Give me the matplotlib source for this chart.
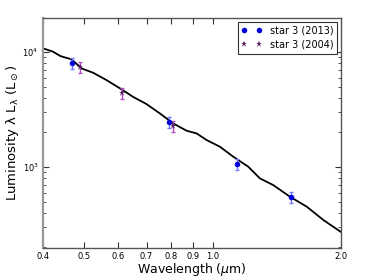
import matplotlib
matplotlib.use('Agg')
import matplotlib.pyplot as plt
from matplotlib.ticker import FixedLocator, FixedFormatter, LogLocator, NullFormatter
import numpy as np

# model curve
model_wl = [0.400, 0.423, 0.440, 0.467, 0.493, 0.525, 0.564, 0.612, 0.651, 0.700,
            0.752, 0.808, 0.869, 0.917, 0.968, 1.040, 1.118, 1.212, 1.291, 1.387,
            1.518, 1.662, 1.818, 2.000]
model_lum = [10800, 10070, 9230, 8650, 7210, 6610, 5710, 4740, 4080, 3530,
             2930, 2400, 2070, 1963, 1718, 1503, 1230, 1007, 796, 697,
             552, 452, 346, 272]

# star 3 photometry
wl_2013 = [0.468, 0.790, 1.14, 1.53]
lum_2013 = [8020, 2460, 1062, 548]
wl_2004 = [0.488, 0.613, 0.807]
lum_2004 = [7410, 4400, 2275]
rel_err = 0.11

xticks = [0.4, 0.5, 0.6, 0.7, 0.8, 0.9, 1.0, 2.0]
xticklabels = ['0.4', '0.5', '0.6', '0.7', '0.8', '0.9', '1.0', '2.0']

fig = plt.figure(figsize=(3.79, 2.77), dpi=100)
ax = fig.add_axes([0.113, 0.105, 0.787, 0.83])

ax.plot(model_wl, model_lum, color='k', lw=1.3, zorder=2)

ax.errorbar(wl_2013, lum_2013, yerr=np.array(lum_2013) * rel_err, fmt='none',
            ecolor='#7777ff', elinewidth=1, capsize=1.5, zorder=4)
ax.plot(wl_2013, lum_2013, 'o', color='#0000dd', ms=4, mew=0,
        label='star 3 (2013)', zorder=5)
ax.errorbar(wl_2004, lum_2004, yerr=np.array(lum_2004) * rel_err, fmt='none',
            ecolor='#b050c0', elinewidth=1, capsize=1.5, zorder=3)
ax.plot(wl_2004, lum_2004, '*', color='#5a1a60', ms=4.5, mew=0,
        label='star 3 (2004)', zorder=3)

ax.set_xscale('log')
ax.set_yscale('log')
ax.set_xlim(0.4, 2.0)
ax.set_ylim(198, 19800)

ax.xaxis.set_major_locator(FixedLocator(xticks))
ax.xaxis.set_major_formatter(FixedFormatter(xticklabels))
ax.xaxis.set_minor_locator(FixedLocator([]))
ax.yaxis.set_major_locator(LogLocator(base=10))
ax.yaxis.set_minor_locator(LogLocator(base=10, subs=np.arange(2, 10)))
ax.yaxis.set_minor_formatter(NullFormatter())

ax.tick_params(which='both', direction='in', top=True, right=True, labelsize=6,
               color='#333333', pad=3)
ax.tick_params(which='major', length=4, width=0.8)
ax.tick_params(which='minor', length=2, width=0.6)

for s in ax.spines.values():
    s.set_color('#555555')
    s.set_linewidth(1.0)
ax.spines['left'].set_color('#999999')
ax.spines['left'].set_linewidth(1.6)

ax.set_xlabel(r'Wavelength ($\mu$m)', fontsize=9, labelpad=0)
ax.set_ylabel(r'Luminosity λ L$_\mathregular{λ}$ (L$_\odot$)', fontsize=9.5, labelpad=1)

leg = ax.legend(loc='upper right', numpoints=2, fontsize=7, fancybox=False,
                framealpha=1, borderaxespad=0.4, handletextpad=0.8, borderpad=0.4,
                labelspacing=0.4, handlelength=2.1)
leg.get_frame().set_edgecolor('#333333')
leg.get_frame().set_linewidth(0.8)

fig.savefig('out.png', dpi=100)
